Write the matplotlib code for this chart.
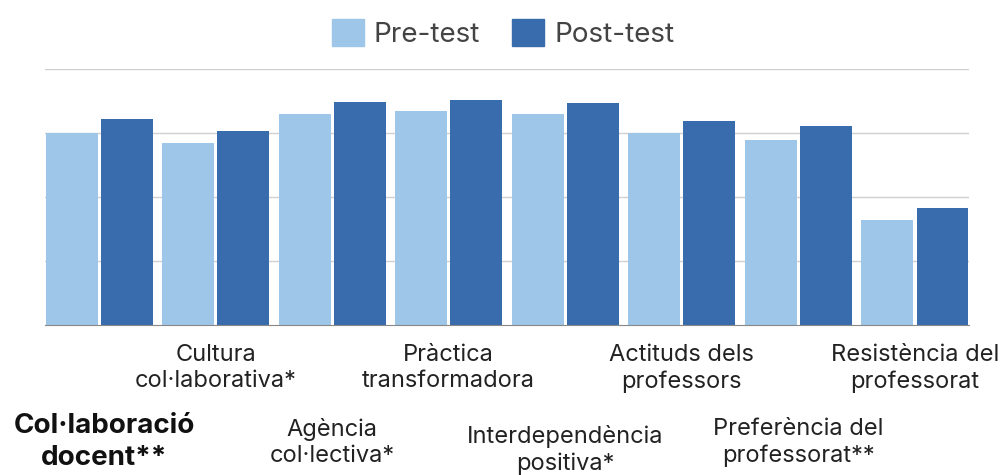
import matplotlib
matplotlib.use("Agg")
import matplotlib.pyplot as plt
from matplotlib.patches import Patch
import numpy as np

plt.rcParams["font.family"] = ["Inter", "DejaVu Sans"]

categories = [
    "Col·laboració\ndocent**",
    "Cultura\ncol·laborativa*",
    "Agència\ncol·lectiva*",
    "Pràctica\ntransformadora",
    "Interdependència\npositiva*",
    "Actituds dels\nprofessors",
    "Preferència del\nprofessorat**",
    "Resistència del\nprofessorat",
]
pre_test = [3.00, 2.84, 3.30, 3.34, 3.30, 3.00, 2.89, 1.64]
post_test = [3.22, 3.03, 3.48, 3.52, 3.47, 3.19, 3.11, 1.83]
series_names = ["Pre-test", "Post-test"]

light = "#9DC6E8"
dark = "#386CAD"

fig = plt.figure(figsize=(10.06, 4.75), dpi=100)
ax = fig.add_axes([0.0447, 0.316, 0.9186, 0.539])

x = np.arange(len(categories))
w = 0.446
ax.bar(x - 0.236, pre_test, w, color=light, zorder=2)
ax.bar(x + 0.236, post_test, w, color=dark, zorder=2)

ax.set_xlim(-0.464, len(categories) - 1 + 0.464)
ax.set_ylim(0, 4)
ax.set_yticks([1, 2, 3, 4])
ax.yaxis.grid(True, color="#d0d0d0", linewidth=1, zorder=0)
ax.tick_params(left=False, bottom=False, labelleft=False, labelbottom=False)
for s in ["top", "right", "left"]:
    ax.spines[s].set_visible(False)
ax.spines["bottom"].set_color("#888888")

# staggered category labels (odd ones up, even ones down)
for i, name in enumerate(categories):
    xf = ax.transData.transform((i, 0))[0] / fig.bbox.width
    if i % 2:
        y = 0.225
    elif i == 4:
        y = 0.052
    else:
        y = 0.069
    if i == 0:
        fig.text(xf + 0.005, y, name, ha="center", va="center", fontsize=20,
                 fontweight="bold", color="#111111", linespacing=1.3)
    else:
        fig.text(xf, y, name, ha="center", va="center", fontsize=17,
                 color="#222222", linespacing=1.25)

handles = [Patch(color=light), Patch(color=dark)]
fig.legend(handles, series_names, loc="center", bbox_to_anchor=(0.5, 0.93),
           ncol=2, frameon=False, fontsize=20, handlelength=1.15, handleheight=1.15,
           handletextpad=0.36, columnspacing=1.15, labelcolor="#444444")

fig.savefig("out.png", dpi=100)
